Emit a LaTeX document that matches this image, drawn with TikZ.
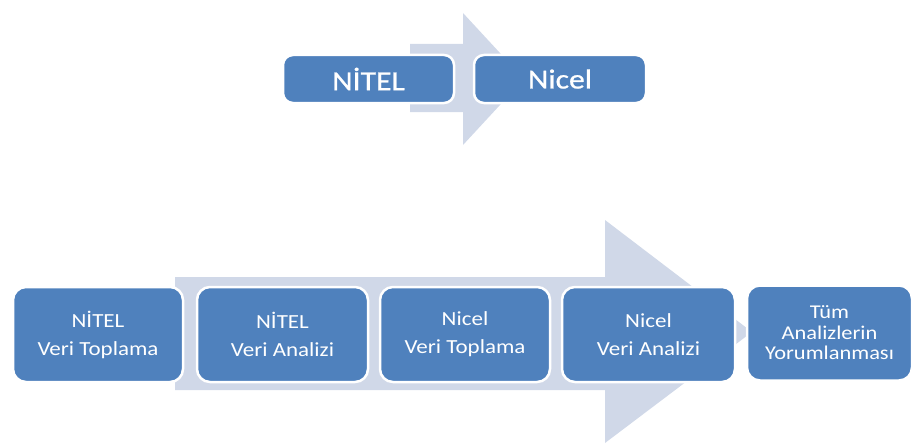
\documentclass[tikz,border=0pt]{standalone}
\usepackage{fontspec}
\setmainfont{Carlito}
\newfontfamily\boxfont[FakeStretch=1.15]{Carlito}
\newfontfamily\headfont[FakeStretch=1.15,FakeBold=0.8]{Carlito}
\definecolor{boxblue}{HTML}{4F81BD}
\definecolor{arrowgrey}{HTML}{D0D8E8}
\begin{document}
\begin{tikzpicture}[x=1pt,y=-1pt,
  stepbox/.style={rounded corners=10pt, fill=boxblue, draw=white, line width=2.5pt,
    text=white, align=center, inner sep=0pt, font=\boxfont},
  topbox/.style={stepbox, minimum width=171pt, minimum height=48pt,
    font=\headfont\fontsize{27.5}{30}\selectfont},
  lowbox/.style={stepbox, rounded corners=13pt, minimum height=95pt,
    font=\boxfont\fontsize{20}{28}\selectfont},
  bgarrow/.style={fill=arrowgrey, draw=none}]
\useasboundingbox (0,0) rectangle (913,444);

% upper process arrow
\fill[bgarrow] (410,44) -- (463,44) -- (463,13) -- (524,79) -- (463,145)
  -- (463,112) -- (410,112) -- cycle;

\node[topbox] (nitel) at (368.5,79) {NİTEL};
\node[topbox, minimum width=172pt] (nicel) at (560,79) {Nicel};

% lower process arrow
\fill[bgarrow] (175,277) -- (605,277) -- (605,220) -- (752,332) -- (605,443)
  -- (605,390) -- (175,390) -- cycle;

\node[lowbox, minimum width=170pt] (b1) at (98,334.5) {NİTEL\\Veri Toplama};
\node[lowbox, minimum width=171pt] (b2) at (282.5,334.5) {NİTEL\\Veri Analizi};
\node[lowbox, minimum width=170pt] (b3) at (465,334.5) {Nicel\\Veri Toplama};
\node[lowbox, minimum width=173pt] (b4) at (648.5,334.5) {Nicel\\Veri Analizi};
\node[lowbox, minimum width=165pt, font=\boxfont\fontsize{19.5}{20.5}\selectfont]
  (b5) at (829.5,333) {Tüm\\Analizlerin\\Yorumlanması};
\end{tikzpicture}
\end{document}
